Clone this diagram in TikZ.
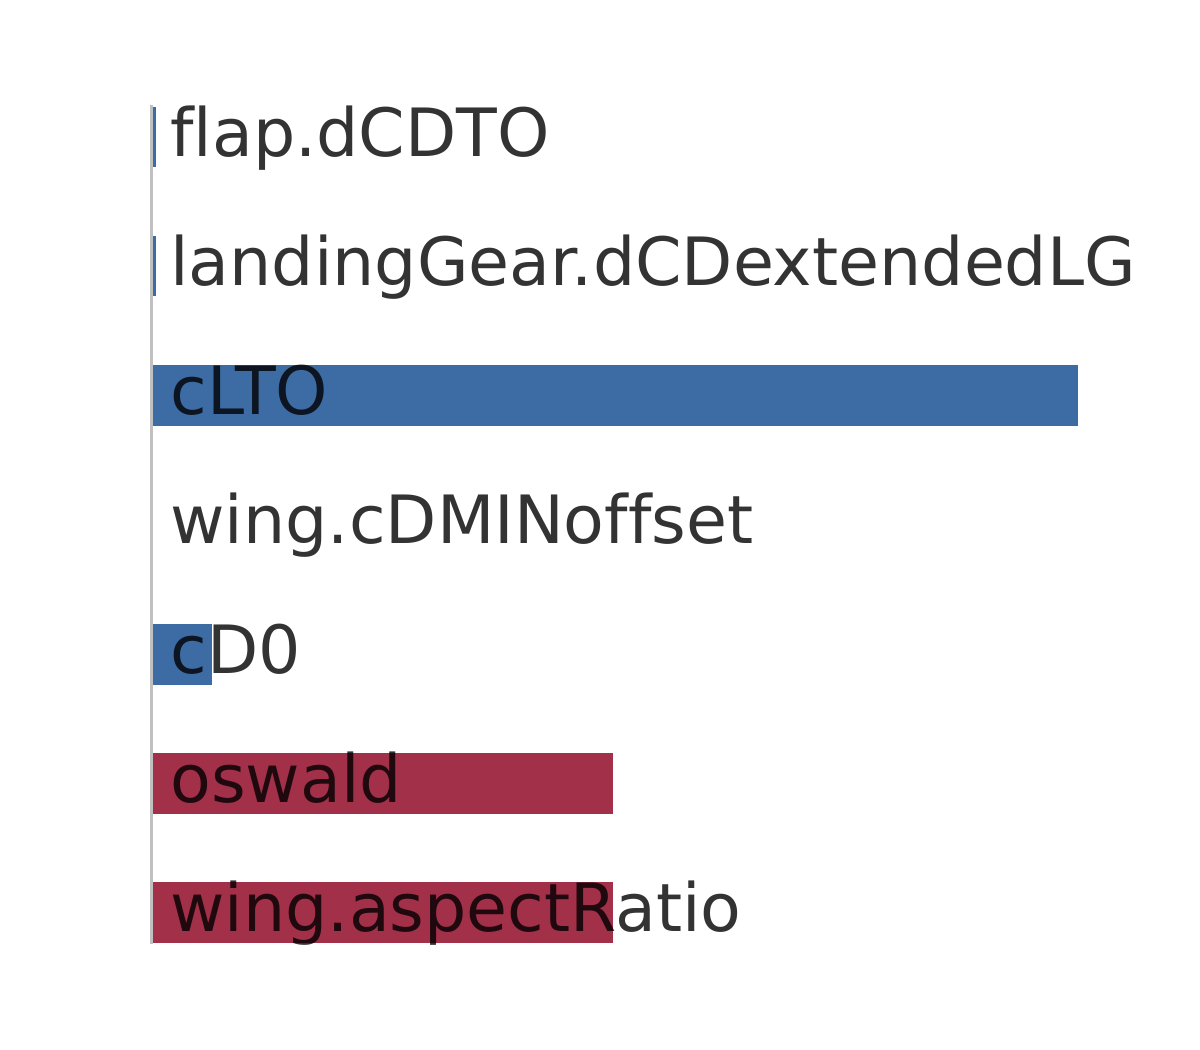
\documentclass[tikz,border=0pt]{standalone}
\usepackage{fontspec}
\setmainfont{DejaVu Sans}[Ligatures={NoCommon}]
\usepackage{xcolor}
\usetikzlibrary{positioning}
\definecolor{barblue}{HTML}{3D6CA5}
\definecolor{barred}{HTML}{A33049}
\definecolor{axisgray}{HTML}{C0C0C0}
\begin{document}
\begin{tikzpicture}[x=0.5pt, y=-0.5pt, every node/.style={anchor=base west, inner sep=0pt, text=black, text opacity=0.8, font=\fontsize{33.3}{40}\selectfont}]
    \useasboundingbox (0,0) rectangle (1200,1050);
    \fill[barblue] (152,107) rectangle (156,167);
    \fill[barblue] (152,236) rectangle (156,296);
    \fill[barblue] (152,365) rectangle (1078,426);
    \fill[barblue] (152,624) rectangle (212,685);
    \fill[barred] (152,753) rectangle (613,814);
    \fill[barred] (152,882) rectangle (613,943);
    \coordinate (axtop) at (151,105);
    \coordinate (axbot) at (151,944);
    \draw[axisgray, line width=1.5pt] (axtop) -- (axbot);
    \node (flap) at (170,156) {flap.dCDTO};
    \node (gear) at (170,285) {landingGear.dCDextendedLG};
    \node (clto) at (170,414.5) {cLTO};
    \node (cdmin) at (170,543.5) {wing.cDMINoffset};
    \node (cdzero) at (170,673.5) {cD0};
    \node (oswald) at (170,802.5) {oswald};
    \node (aspect) at (170,931.5) {wing.aspectRatio};
  \end{tikzpicture}
\end{document}
